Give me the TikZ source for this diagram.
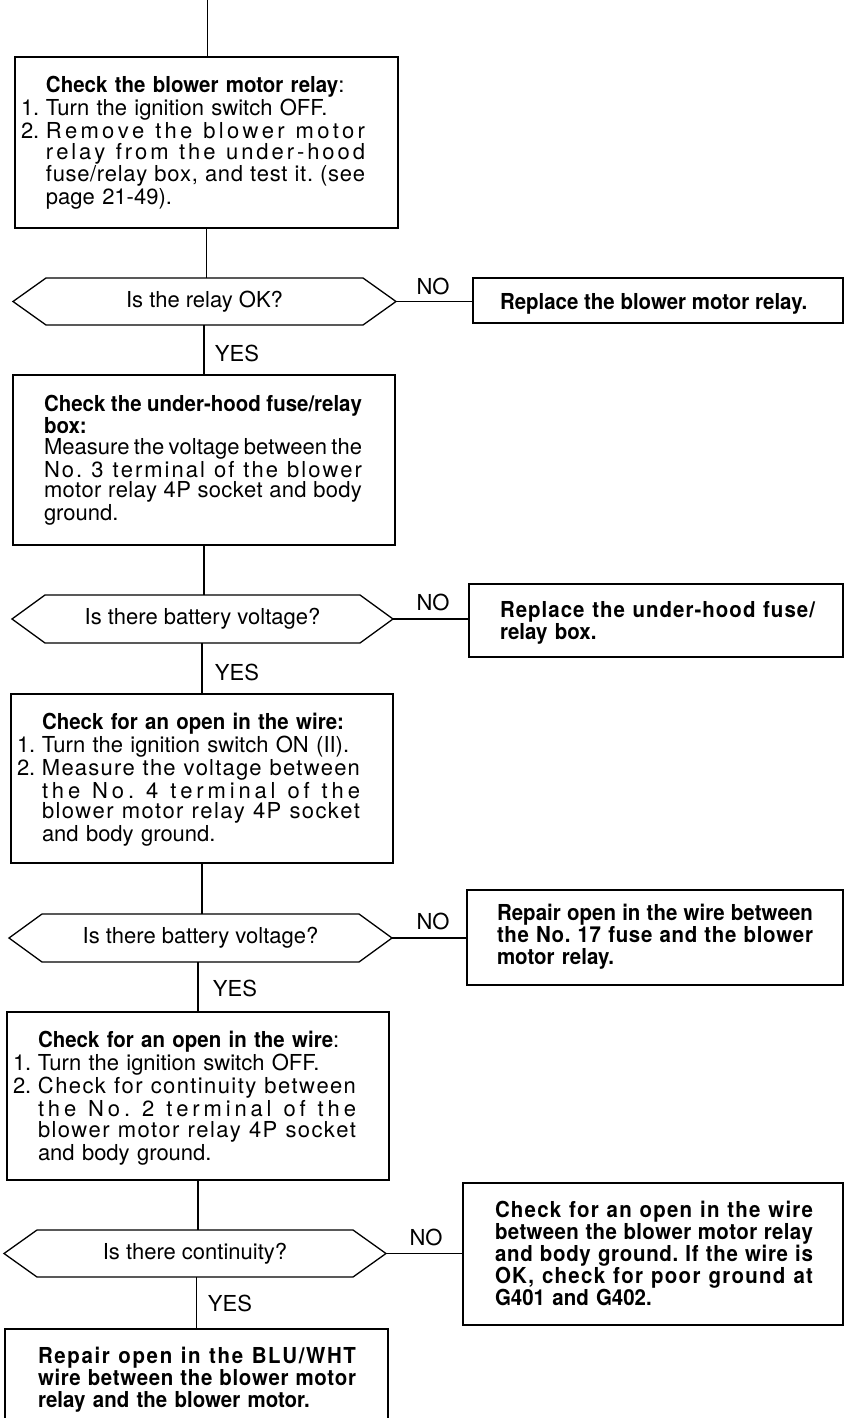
\documentclass[tikz,border=0pt]{standalone}
\usepackage{fontspec}
\setmainfont{TeX Gyre Heros}[BoldFeatures={FakeStretch=0.93}]
\setlength\parindent{0pt}
\newlength\jw
\setlength\jw{159pt}
\makeatletter
% justified line: extra room spread between letters and words
\newcommand\JL[1]{\leavevmode\hbox to \jw{\JL@words#1 \@nil}}
\def\JL@words#1 #2\@nil{\JL@chars#1\@nil\if\relax\detokenize{#2}\relax\else\hskip 0.278em plus 1.5fil minus 0.1em\relax\JL@words#2\@nil\fi}
\def\JL@chars#1#2\@nil{#1\if\relax\detokenize{#2}\relax\else\hskip 0pt plus 1fil\relax\JL@chars#2\@nil\fi}
\makeatother
\newcommand\NumL[1]{\leavevmode\makebox[0pt][r]{\makebox[12.5pt][l]{#1}}}
\newcommand\hexframe[1]{\draw[conn] (#1.west) -- ([xshift=16.5pt]#1.north west) -- ([xshift=-16.5pt]#1.north east) -- (#1.east) -- ([xshift=-16.5pt]#1.south east) -- ([xshift=16.5pt]#1.south west) -- cycle;}
\tikzset{
  conn/.style={line width=0.65pt, line join=miter},
  boxnode/.style={draw, line width=0.65pt, inner sep=0pt, outer sep=0pt},
  hexnode/.style={inner sep=0pt, outer sep=0pt, font=\fontsize{11}{12}\selectfont},
  tw/.style={text width=#1, execute at begin node={\setlength\jw{#1}}},
  bodytext/.style={anchor=base west, inner sep=0pt, outer sep=0pt, align=left, font=\fontsize{11}{10.25}\selectfont},
  boldtext/.style={anchor=base west, inner sep=0pt, outer sep=0pt, align=left, font=\fontsize{11}{11}\selectfont\bfseries},
  lbl/.style={font=\fontsize{11}{12}\selectfont, inner sep=0pt},
}
\begin{document}
\begin{tikzpicture}[x=0.5pt,y=-0.5pt]
\fill[white] (0,0) rectangle (844,1418);
\useasboundingbox (0,0) rectangle (844,1418);

% ---------- row 1
\coordinate (top) at (207.5,0);
\node[boxnode, minimum width=191.5pt, minimum height=85.5pt] (b1) at (206.5,142.5) {};
\node[bodytext, tw=159.5pt] (t1) at (46,92.5) {\textbf{Check the blower motor relay}:\\
\NumL{1.}Turn the ignition switch OFF.\\
\NumL{2.}\JL{Remove the blower motor}\\
\JL{relay from the under-hood}\\
\JL{fuse/relay box, and test it. (see}\\
page 21-49).};
\node[hexnode, minimum width=191.5pt, minimum height=23.5pt] (q1) at (204.5,301.5) {Is the relay OK?};
\hexframe{q1}
\node[lbl] (no1) at (433,286) {NO};
\node[boxnode, minimum width=185pt, minimum height=22.5pt] (n1) at (658,300.5) {};
\node[boldtext] (m1) at (500,309) {Replace the blower motor relay.};
\node[lbl] (yes1) at (237,353) {YES};

% ---------- row 2
\node[boxnode, minimum width=191pt, minimum height=85pt] (b2) at (204,460) {};
\node[bodytext, tw=159pt] (t2) at (44,411) {\textbf{\JL{Check the under-hood fuse/relay}}\\
\textbf{box:}\\
\JL{Measure the voltage between the}\\
\JL{No. 3 terminal of the blower}\\
\JL{motor relay 4P socket and body}\\
ground.};
\node[hexnode, minimum width=190.5pt, minimum height=24pt] (q2) at (202.5,619) {Is there battery voltage?};
\hexframe{q2}
\node[lbl] (no2) at (433,602) {NO};
\node[boxnode, minimum width=187pt, minimum height=36.5pt] (n2) at (656,620.5) {};
\node[boldtext, tw=157.5pt] (m2) at (500,617) {\JL{Replace the under-hood fuse/}\\
relay box.};
\node[lbl] (yes2) at (237,672) {YES};

% ---------- row 3
\node[boxnode, minimum width=191pt, minimum height=84.5pt] (b3) at (202,778.5) {};
\node[bodytext, tw=159pt] (t3) at (42,729.5) {\textbf{Check for an open in the wire:}\\
\NumL{1.}Turn the ignition switch ON (II).\\
\NumL{2.}\JL{Measure the voltage between}\\
\JL{the No. 4 terminal of the}\\
\JL{blower motor relay 4P socket}\\
and body ground.};
\node[hexnode, minimum width=191.5pt, minimum height=24pt] (q3) at (200.5,938) {Is there battery voltage?};
\hexframe{q3}
\node[lbl] (no3) at (433,921) {NO};
\node[boxnode, minimum width=188pt, minimum height=47.5pt] (n3) at (655,937.5) {};
\node[boldtext, tw=158pt] (m3) at (497,920.5) {\JL{Repair open in the wire between}\\
\JL{the No. 17 fuse and the blower}\\
motor relay.};
\node[lbl] (yes3) at (235,988) {YES};

% ---------- row 4
\node[boxnode, minimum width=191pt, minimum height=84pt] (b4) at (198,1096) {};
\node[bodytext, tw=159pt] (t4) at (38,1047.5) {\textbf{Check for an open in the wire}:\\
\NumL{1.}Turn the ignition switch OFF.\\
\NumL{2.}\JL{Check for continuity between}\\
\JL{the No. 2 terminal of the}\\
\JL{blower motor relay 4P socket}\\
and body ground.};
\node[hexnode, minimum width=191pt, minimum height=23.5pt] (q4) at (195,1253.5) {Is there continuity?};
\hexframe{q4}
\node[lbl] (no4) at (426,1237) {NO};
\node[boxnode, minimum width=190pt, minimum height=71pt] (n4) at (653,1254) {};
\node[boldtext, tw=159pt] (m4) at (495,1217) {\JL{Check for an open in the wire}\\
\JL{between the blower motor relay}\\
\JL{and body ground. If the wire is}\\
\JL{OK, check for poor ground at}\\
G401 and G402.};
\node[lbl] (yes4) at (230,1303) {YES};

% ---------- row 5
\node[inner sep=0pt, outer sep=0pt, minimum width=191.5pt, minimum height=50.5pt] (b5) at (196.5,1379.5) {};
\draw[conn] (b5.south west) -- (b5.north west) -- (b5.north east) -- (b5.south east);
\node[boldtext, tw=159pt] (t5) at (38,1363) {\JL{Repair open in the BLU/WHT}\\
\JL{wire between the blower motor}\\
relay and the blower motor.};

% ---------- connectors
\draw[conn] (top) -- (top |- b1.north);
\draw[conn] (b1.south) -- (b1.south |- q1.north);
\draw[conn] (q1.east) -- (q1.east -| n1.west);
\draw[conn] (b2.north) -- (b2.north |- q1.south);
\draw[conn] (b2.south) -- (b2.south |- q2.north);
\draw[conn] (q2.east) -- (q2.east -| n2.west);
\draw[conn] (b3.north) -- (b3.north |- q2.south);
\draw[conn] (b3.south) -- (b3.south |- q3.north);
\draw[conn] (q3.east) -- (q3.east -| n3.west);
\draw[conn] (b4.north) -- (b4.north |- q3.south);
\draw[conn] (b4.south) -- (b4.south |- q4.north);
\draw[conn] (q4.east) -- (q4.east -| n4.west);
\draw[conn] (b5.north) -- (b5.north |- q4.south);
\end{tikzpicture}
\end{document}
